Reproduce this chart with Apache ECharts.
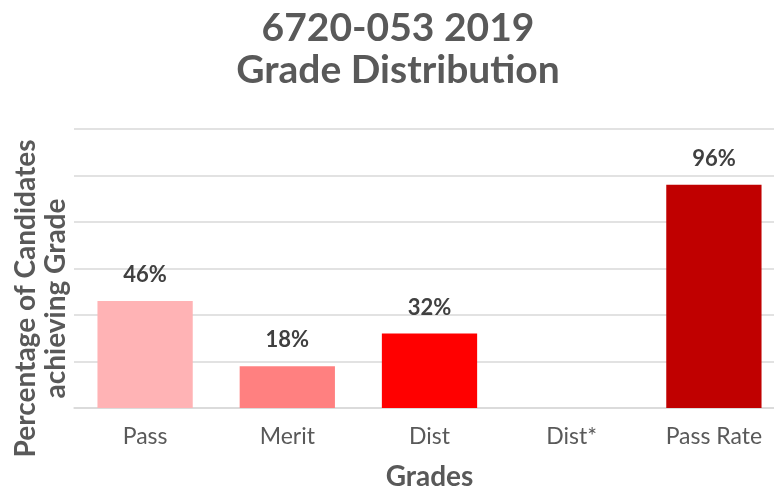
<!DOCTYPE html>
<html>
<head>
<meta charset="utf-8">
<script src="https://cdn.jsdelivr.net/npm/echarts@6/dist/echarts.min.js"></script>
<style>
  html, body { margin: 0; padding: 0; background: #fff; }
  #chart { width: 774px; height: 489px; }
</style>
</head>
<body>
<div id="chart"></div>
<script>
// grade distribution data
const grades = ['Pass', 'Merit', 'Dist', 'Dist*', 'Pass Rate'];
const percentages = [46, 18, 32, 0, 96];
const barColors = ['#FFB3B5', '#FF8080', '#FF0000', '#FF0000', '#C00000'];

const textGrey = '#595959';

let myChart = echarts.init(document.getElementById('chart'));
myChart.setOption({
  animation: false,
  title: {
    text: '6720-053 2019\nGrade Distribution',
    left: 393,
    textAlign: 'center',
    top: 2,
    textStyle: {
      fontFamily: 'Lato',
      fontSize: 39,
      fontWeight: 'bold',
      lineHeight: 42,
      color: textGrey
    }
  },
  grid: {
    left: 74,
    width: 711,
    top: 129,
    height: 279,
    outerBoundsMode: 'none'
  },
  xAxis: {
    type: 'category',
    data: grades,
    name: 'Grades',
    nameLocation: 'middle',
    nameGap: 55,
    nameTextStyle: {
      fontFamily: 'Lato',
      fontSize: 28,
      fontWeight: 'bold',
      color: textGrey
    },
    axisTick: { show: false },
    axisLine: { lineStyle: { color: '#d9d9d9', width: 1.5 } },
    axisLabel: {
      margin: 17,
      fontFamily: 'Lato',
      fontSize: 23,
      color: textGrey
    }
  },
  yAxis: {
    type: 'value',
    min: 0,
    max: 120,
    interval: 20,
    name: 'Percentage of Candidates\nachieving Grade',
    nameLocation: 'middle',
    nameGap: 3,
    nameTextStyle: {
      fontFamily: 'Lato',
      fontSize: 28,
      fontWeight: 'bold',
      lineHeight: 30,
      color: textGrey,
      padding: [0, 60, 0, 0]
    },
    axisLabel: { show: false },
    axisTick: { show: false },
    axisLine: { show: false },
    splitLine: { lineStyle: { color: '#d9d9d9', width: 1.5 } }
  },
  series: [
    {
      type: 'bar',
      data: percentages,
      barWidth: '67%',
      itemStyle: {
        color: function (p) { return barColors[p.dataIndex]; }
      },
      label: {
        show: true,
        position: 'top',
        distance: 15,
        fontFamily: 'Lato',
        fontSize: 22,
        fontWeight: 'bold',
        color: '#404040',
        formatter: function (p) { return p.value ? p.value + '%' : ''; }
      }
    }
  ]
});
</script>
</body>
</html>
